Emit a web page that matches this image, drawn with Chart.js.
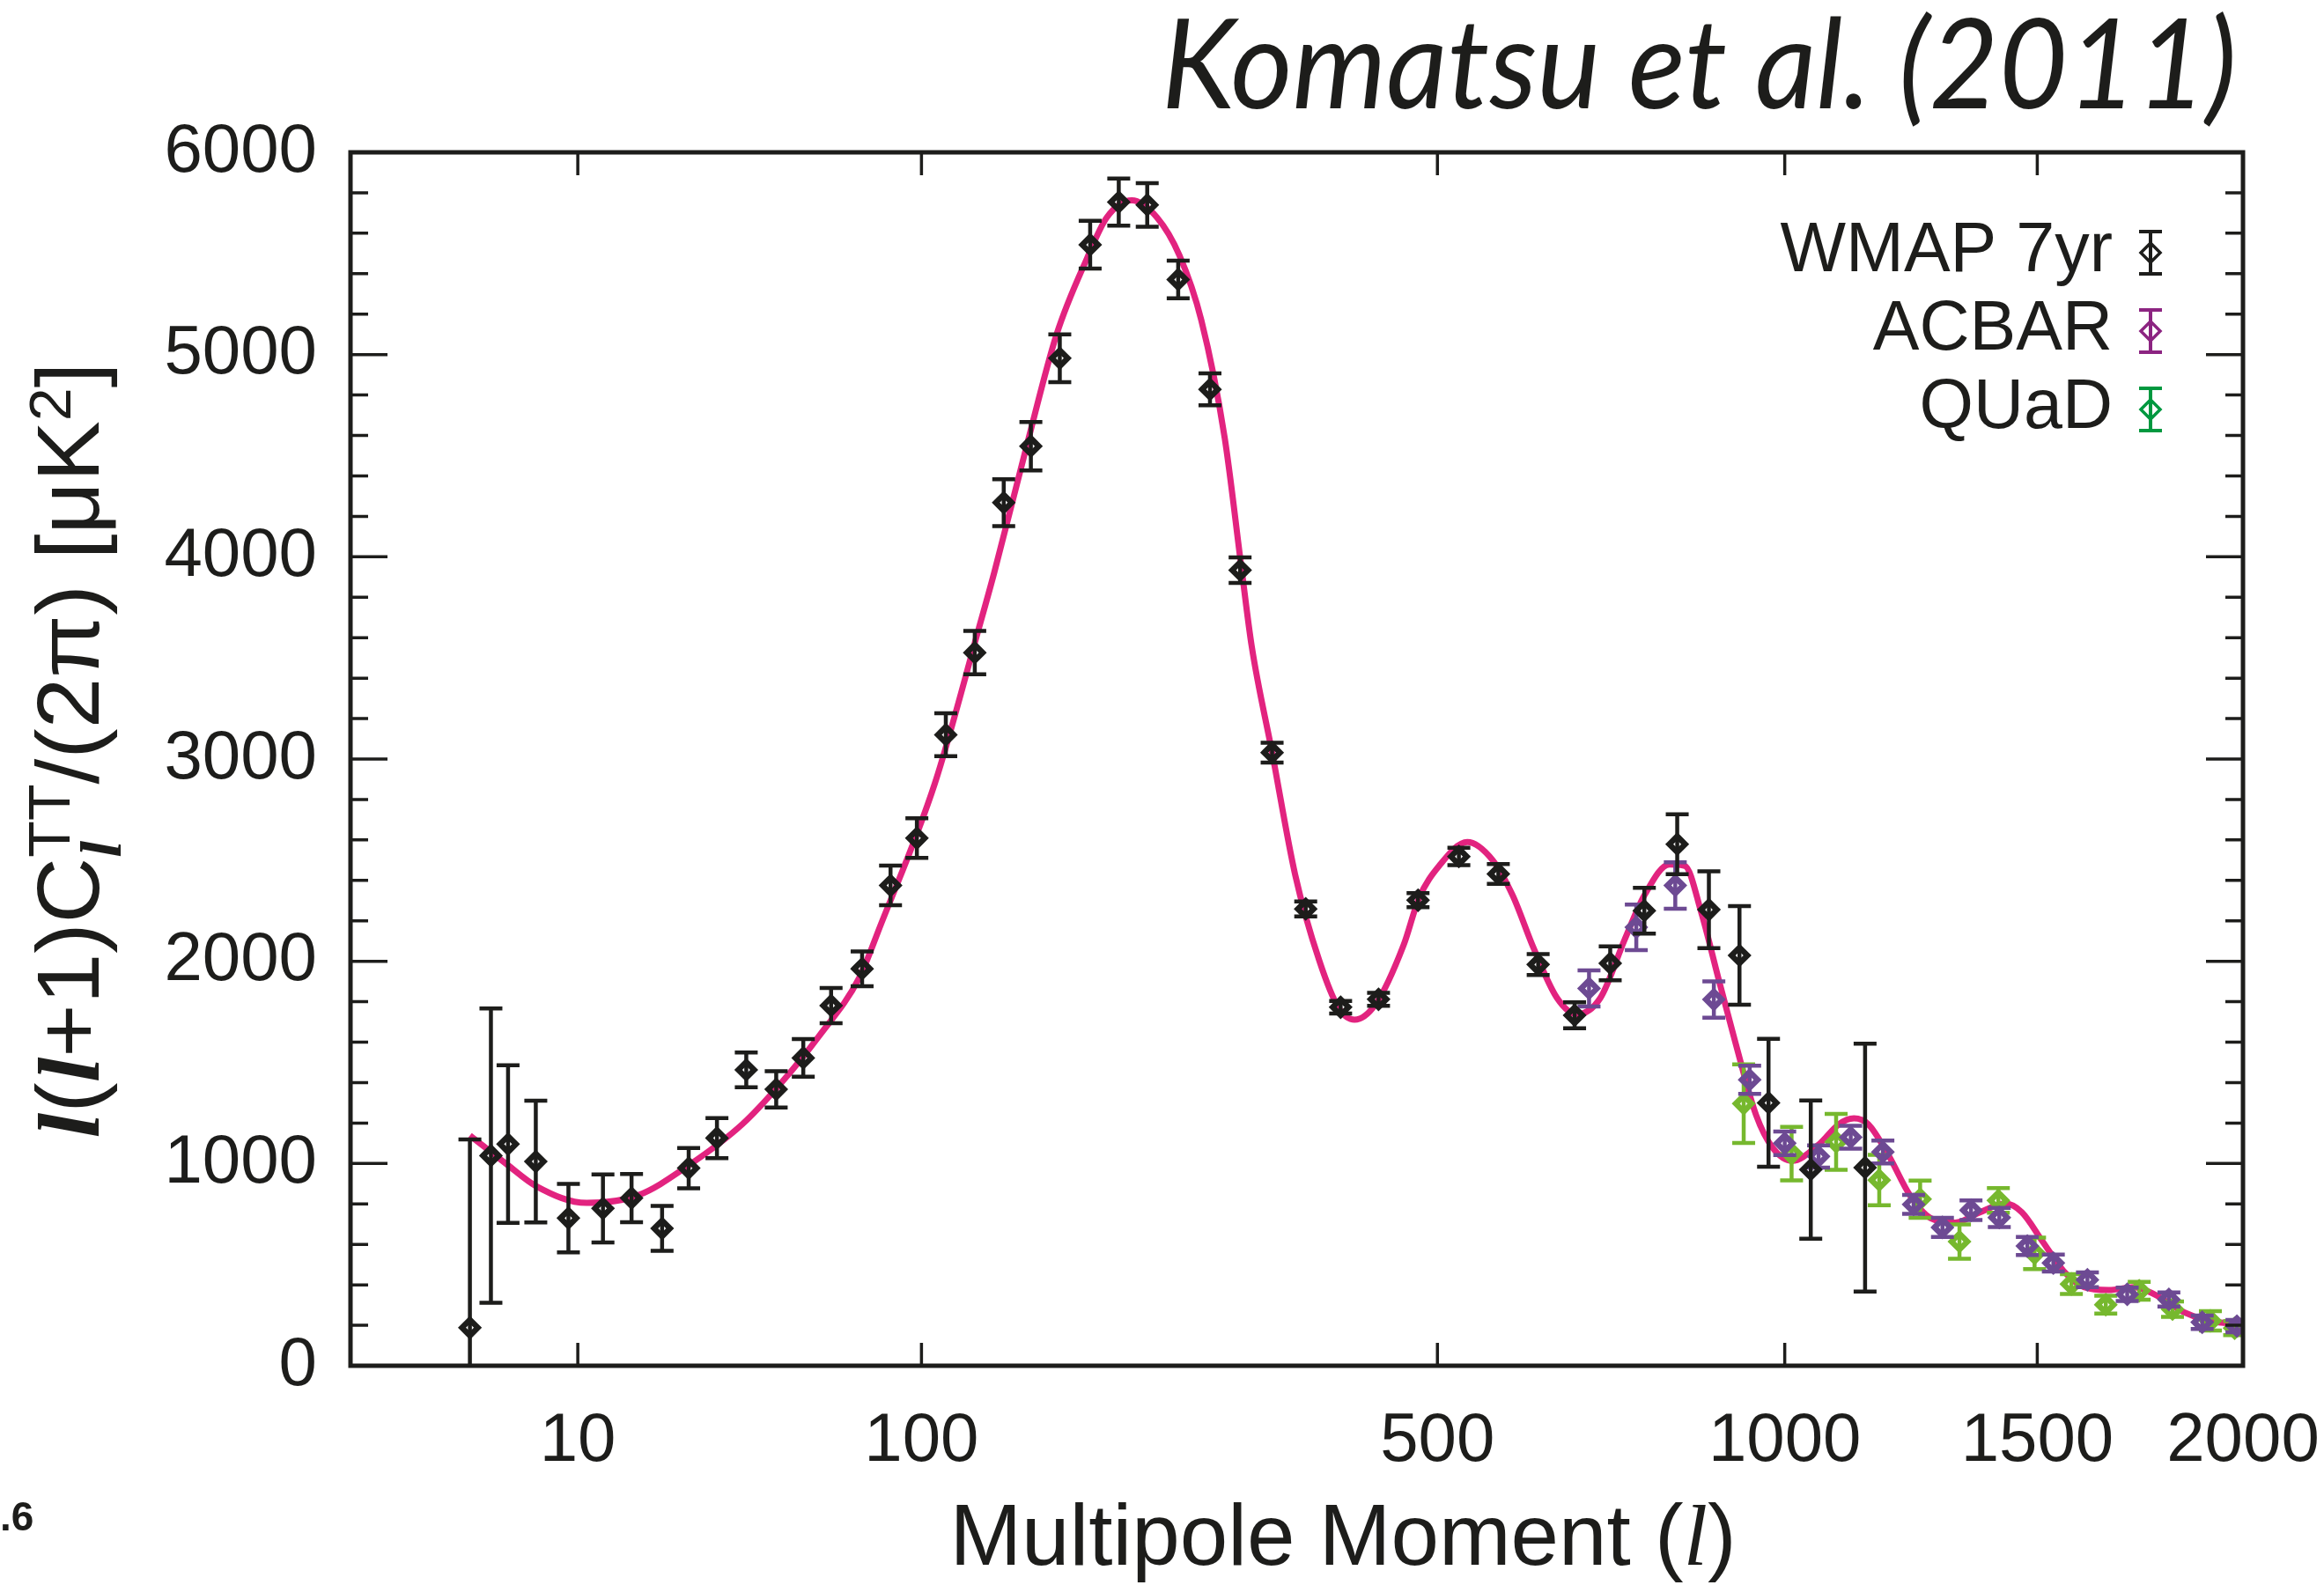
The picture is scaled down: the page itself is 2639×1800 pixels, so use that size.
<!DOCTYPE html>
<html>
<head>
<meta charset="utf-8">
<script src="https://cdn.jsdelivr.net/npm/chart.js@4.4.1/dist/chart.umd.min.js"></script>
<style>
  html, body { margin: 0; padding: 0; background: #fff; }
  #wrap { width: 2639px; height: 1800px; }
</style>
</head>
<body>
<div id="wrap"><canvas id="cmb" width="2639" height="1800"></canvas></div>
<script>
// axis ticks
const xTicks = [10, 100, 500, 1000, 1500, 2000];
const yTicks = [0, 1000, 2000, 3000, 4000, 5000, 6000];

// WMAP 7yr binned points (l, D_l, 1 sigma)
const wmapL = [2, 3, 4, 6, 9, 13, 17, 22, 27, 33, 40, 48, 56, 65, 76, 87, 98, 111, 125, 140, 155, 172, 191, 210, 230, 253, 278, 303, 331, 362, 396, 435, 478, 525, 573, 624, 673, 723, 773, 823, 873, 923, 972, 1046, 1146];
const wmapD = [188, 1039, 1096, 1010, 730, 778, 829, 679, 977, 1126, 1463, 1367, 1522, 1781, 1963, 2375, 2609, 3120, 3526, 4268, 4547, 4982, 5543, 5754, 5740, 5371, 4828, 3934, 3032, 2259, 1773, 1812, 2302, 2518, 2432, 1984, 1733, 1990, 2250, 2579, 2255, 2029, 1300, 970, 980];
const wmapErr = [931, 728, 390, 301, 169, 168, 119, 111, 100, 99, 86, 90, 93, 87, 86, 98, 98, 106, 107, 116, 120, 118, 118, 117, 108, 93, 79, 63, 49, 37, 31, 32, 35, 43, 49, 52, 64, 84, 113, 148, 190, 244, 316, 342, 613];

// ACBAR
const acbarL = [693, 761, 820, 881, 940, 1000, 1060, 1119, 1180, 1240, 1298, 1357, 1417, 1478, 1536, 1614, 1708, 1810, 1894, 1984];
const acbarD = [1866, 2168, 2375, 1811, 1414, 1100, 1035, 1130, 1057, 798, 684, 769, 733, 592, 508, 425, 353, 328, 215, 196];
const acbarErr = [89, 113, 115, 90, 70, 58, 55, 57, 57, 47, 47, 48, 47, 45, 42, 36, 33, 35, 33, 30];

// QUaD
const quadL = [930, 1012, 1092, 1173, 1253, 1333, 1415, 1494, 1577, 1657, 1737, 1819, 1915, 1978];
const quadD = [1296, 1049, 1107, 918, 824, 614, 817, 556, 404, 302, 371, 280, 222, 186];
const quadErr = [194, 132, 138, 125, 92, 85, 61, 78, 49, 44, 44, 38, 48, 35];

// best fit LCDM curve
const theoryL = [2, 4, 6, 11, 18, 27, 39, 49, 61, 75, 83, 106, 127, 135, 153, 170, 189, 202, 219, 237, 254, 271, 290, 304, 313, 331, 352, 375, 394, 410, 432, 462, 479, 502, 535, 566, 591, 618, 649, 676, 709, 744, 773, 811, 835, 861, 888, 916, 951, 979, 1013, 1060, 1097, 1125, 1152, 1192, 1232, 1274, 1324, 1376, 1430, 1466, 1512, 1559, 1606, 1664, 1724, 1774, 1846, 1910, 1975, 2000];
const theoryD = [1139, 991, 889, 805, 843, 991, 1194, 1390, 1630, 1920, 2177, 2881, 3645, 3923, 4561, 5098, 5476, 5679, 5763, 5679, 5490, 5171, 4590, 3952, 3557, 3032, 2430, 2003, 1769, 1711, 1788, 2080, 2312, 2472, 2590, 2500, 2326, 2065, 1819, 1738, 1819, 2108, 2326, 2479, 2472, 2239, 1920, 1601, 1238, 1078, 1013, 1093, 1194, 1223, 1194, 1035, 846, 730, 708, 759, 802, 759, 614, 469, 389, 374, 389, 353, 266, 222, 208, 200];

const INK = '#1d1d1b';
const SANS = '"Liberation Sans", Arial, Helvetica, sans-serif';
const SERIF = '"Liberation Serif", "Times New Roman", serif';

// multipole axis is linear in l^0.4
const P = 0.4;
class PowerScale extends Chart.Scale {
  determineDataLimits() {
    this.min = this.options.min ?? 0;
    this.max = this.options.max ?? 2000;
  }
  buildTicks() {
    return xTicks.map(v => ({ value: v }));
  }
  getLabelForValue(v) { return String(v); }
  getPixelForValue(v) {
    const t0 = Math.pow(this.min, P), t1 = Math.pow(this.max, P);
    return this.getPixelForDecimal((Math.pow(Math.max(v, 0), P) - t0) / (t1 - t0));
  }
  getValueForPixel(px) {
    const t0 = Math.pow(this.min, P), t1 = Math.pow(this.max, P);
    return Math.pow(t0 + this.getDecimalForPixel(px) * (t1 - t0), 1 / P);
  }
}
PowerScale.id = 'power';
PowerScale.defaults = {};
Chart.register(PowerScale);

const pts = (ls, ds) => ls.map((l, i) => ({ x: l, y: ds[i] }));

function pointSet(label, ls, ds, errs, color, legendColor, order) {
  return {
    label: label,
    data: pts(ls, ds),
    err: errs,
    legendColor: legendColor,
    showLine: false,
    borderColor: color,
    pointStyle: 'rectRot',
    pointRadius: 9,
    pointBorderWidth: 6.5,
    pointBorderColor: color,
    pointBackgroundColor: 'rgba(0,0,0,0)',
    order: order
  };
}

// error bars, drawn just before each point set
const errorBars = {
  id: 'errorBars',
  beforeDatasetDraw(chart, args) {
    const ds = chart.data.datasets[args.index];
    if (!ds.err) return;
    const { ctx, chartArea, scales: { x, y } } = chart;
    ctx.save();
    ctx.beginPath();
    ctx.rect(chartArea.left, chartArea.top, chartArea.width, chartArea.height);
    ctx.clip();
    ctx.strokeStyle = ds.borderColor;
    ctx.lineWidth = 4.5;
    ds.data.forEach((p, i) => {
      const px = x.getPixelForValue(p.x);
      const yTop = y.getPixelForValue(p.y + ds.err[i]);
      const yBot = y.getPixelForValue(p.y - ds.err[i]);
      ctx.beginPath();
      ctx.moveTo(px, yTop); ctx.lineTo(px, yBot);
      ctx.moveTo(px - 13, yTop); ctx.lineTo(px + 13, yTop);
      ctx.moveTo(px - 13, yBot); ctx.lineTo(px + 13, yBot);
      ctx.stroke();
    });
    ctx.restore();
  }
};

// frame with inward ticks on all four sides
const frame = {
  id: 'frame',
  afterDatasetsDraw(chart) {
    const { ctx, chartArea: a, scales: { x, y } } = chart;
    ctx.save();
    ctx.strokeStyle = INK;
    ctx.lineWidth = 3.5;
    ctx.beginPath();
    xTicks.forEach(v => {
      const px = x.getPixelForValue(v);
      if (px > a.right - 2) return;
      ctx.moveTo(px, a.bottom); ctx.lineTo(px, a.bottom - 26);
      ctx.moveTo(px, a.top); ctx.lineTo(px, a.top + 26);
    });
    for (let v = 200; v < 6000; v += 200) {
      const py = y.getPixelForValue(v);
      const len = v % 1000 === 0 ? 42 : 20;
      ctx.moveTo(a.left, py); ctx.lineTo(a.left + len, py);
      ctx.moveTo(a.right, py); ctx.lineTo(a.right - len, py);
    }
    ctx.stroke();
    ctx.lineWidth = 5;
    ctx.strokeRect(a.left, a.top, a.right - a.left, a.bottom - a.top);
    ctx.restore();
  }
};

function groupWidth(ctx, grp) {
  return Math.max(...grp.map(p => { ctx.font = p.f; return ctx.measureText(p.t).width; }));
}
function drawParts(ctx, parts, x, y) {
  let cx = x;
  parts.forEach(grp => {
    grp.forEach(p => { ctx.font = p.f; ctx.fillText(p.t, cx, y + (p.dy || 0)); });
    cx += groupWidth(ctx, grp);
  });
}
function partsWidth(ctx, parts) {
  return parts.reduce((w, grp) => w + groupWidth(ctx, grp), 0);
}

const S = 100;
const yLabelParts = [
  [{ t: 'l', f: `italic bold ${S}px ${SERIF}` }],
  [{ t: '(', f: `${S}px ${SANS}` }],
  [{ t: 'l', f: `italic bold ${S}px ${SERIF}` }],
  [{ t: '+1)C', f: `${S}px ${SANS}` }],
  [{ t: 'l', f: `italic bold ${0.66 * S}px ${SERIF}`, dy: 0.25 * S },
   { t: 'TT', f: `${0.66 * S}px ${SANS}`, dy: -0.33 * S }],
  [{ t: '/(2π) [μK', f: `${S}px ${SANS}` }],
  [{ t: '2', f: `${0.66 * S}px ${SANS}`, dy: -0.32 * S }],
  [{ t: ']', f: `${S}px ${SANS}` }]
];
const xLabelParts = [
  [{ t: 'Multipole Moment (', f: `98px ${SANS}` }],
  [{ t: 'l', f: `italic 98px ${SERIF}` }],
  [{ t: ')', f: `98px ${SANS}` }]
];

const labels = {
  id: 'labels',
  afterDraw(chart) {
    const { ctx } = chart;
    ctx.save();
    ctx.fillStyle = INK;
    ctx.textBaseline = 'alphabetic';
    ctx.textAlign = 'left';

    // title
    ctx.font = `italic 142px Lato, "Open Sans", sans-serif`;
    const title = 'Komatsu et al. (2011)';
    const tw = ctx.measureText(title).width;
    ctx.save();
    ctx.translate(1319, 123);
    ctx.scale(1221 / tw, 1);
    ctx.fillText(title, 0, 0);
    ctx.restore();

    // y axis title
    const yw = partsWidth(ctx, yLabelParts);
    ctx.save();
    ctx.translate(112, 852);
    ctx.rotate(-Math.PI / 2);
    ctx.scale(881 / yw, 1);
    drawParts(ctx, yLabelParts, -yw / 2, 0);
    ctx.restore();

    // x axis title
    const xw = partsWidth(ctx, xLabelParts);
    drawParts(ctx, xLabelParts, 1525 - xw / 2, 1777);

    // legend: text right, error bar icon on its right
    const sets = chart.data.datasets.filter(d => d.err);
    sets.forEach((ds, i) => {
      const cy = 287 + i * 89;
      ctx.font = `79px ${SANS}`;
      ctx.textAlign = 'right';
      ctx.fillStyle = INK;
      ctx.fillText(ds.label, 2399, cy + 21);
      const cx = 2442;
      ctx.strokeStyle = ds.legendColor;
      ctx.lineWidth = 4;
      ctx.beginPath();
      ctx.moveTo(cx, cy - 24); ctx.lineTo(cx, cy + 24);
      ctx.moveTo(cx - 13, cy - 24); ctx.lineTo(cx + 13, cy - 24);
      ctx.moveTo(cx - 13, cy + 24); ctx.lineTo(cx + 13, cy + 24);
      ctx.stroke();
      ctx.lineWidth = 3.5;
      ctx.beginPath();
      ctx.moveTo(cx - 11, cy); ctx.lineTo(cx, cy - 11);
      ctx.lineTo(cx + 11, cy); ctx.lineTo(cx, cy + 11);
      ctx.closePath();
      ctx.stroke();
    });

    // leftover figure number fragment
    ctx.textAlign = 'left';
    ctx.fillStyle = INK;
    ctx.font = `bold 46px ${SANS}`;
    ctx.fillText('.6', 0, 1738);
    ctx.restore();
  }
};

new Chart(document.getElementById('cmb'), {
  type: 'line',
  data: {
    datasets: [
      {
        label: 'LCDM',
        data: pts(theoryL, theoryD),
        borderColor: '#e2237f',
        borderWidth: 7,
        pointRadius: 0,
        cubicInterpolationMode: 'monotone',
        fill: false,
        order: 3
      },
      pointSet('WMAP 7yr', wmapL, wmapD, wmapErr, INK, INK, 0),
      pointSet('ACBAR', acbarL, acbarD, acbarErr, '#6d4a93', '#8c2481', 1),
      pointSet('QUaD', quadL, quadD, quadErr, '#76b82e', '#00983f', 2)
    ]
  },
  options: {
    responsive: false,
    animation: false,
    events: [],
    devicePixelRatio: 1,
    layout: { padding: { top: 173, right: 92, left: 0, bottom: 0 } },
    plugins: { legend: { display: false }, tooltip: { enabled: false } },
    scales: {
      x: {
        type: 'power',
        position: 'bottom',
        min: 0,
        max: 2000,
        grid: { display: false, drawTicks: false },
        border: { display: false },
        ticks: {
          autoSkip: false,
          maxRotation: 0,
          padding: 40,
          color: INK,
          font: { family: SANS, size: 78 },
          callback: v => String(v)
        },
        afterFit: s => { s.height = 249; s.paddingLeft = 0; s.paddingRight = 0; }
      },
      y: {
        type: 'linear',
        min: 0,
        max: 6000,
        grid: { display: false, drawTicks: false },
        border: { display: false },
        afterBuildTicks: s => { s.ticks = yTicks.map(v => ({ value: v })); },
        ticks: {
          padding: 38,
          color: INK,
          font: { family: SANS, size: 78 },
          callback: v => String(v)
        },
        afterFit: s => { s.width = 398; s.paddingTop = 0; s.paddingBottom = 0; }
      }
    }
  },
  plugins: [errorBars, frame, labels]
});
</script>
</body>
</html>
